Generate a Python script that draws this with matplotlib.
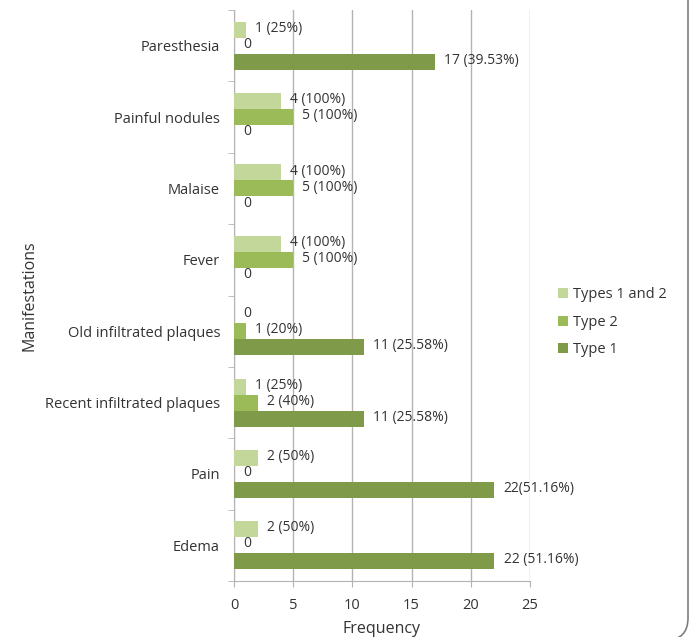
import matplotlib.pyplot as plt
import numpy as np
from matplotlib.patches import FancyBboxPatch

categories = ['Paresthesia', 'Painful nodules', 'Malaise', 'Fever',
              'Old infiltrated plaques', 'Recent infiltrated plaques', 'Pain', 'Edema']
types12 = [1, 4, 4, 4, 0, 1, 2, 2]
type2 = [0, 5, 5, 5, 1, 2, 0, 0]
type1 = [17, 0, 0, 0, 11, 11, 22, 22]
types12_labels = ['1 (25%)', '4 (100%)', '4 (100%)', '4 (100%)', '0', '1 (25%)', '2 (50%)', '2 (50%)']
type2_labels = ['0', '5 (100%)', '5 (100%)', '5 (100%)', '1 (20%)', '2 (40%)', '0', '0']
type1_labels = ['17 (39.53%)', '0', '0', '0', '11 (25.58%)', '11 (25.58%)', '22(51.16%)', '22 (51.16%)']

plt.rcParams['font.family'] = ['Open Sans', 'DejaVu Sans']
text_col = '#333333'
grid_col = '#B3B3B3'

fig = plt.figure(figsize=(6.91, 6.37), dpi=100)
ax = fig.add_axes([0.3386, 0.0879, 0.4284, 0.8964])

y = np.arange(len(categories))
h = 0.224
series = [
    (types12, types12_labels, '#C4D79B', 'Types 1 and 2', -h),
    (type2, type2_labels, '#9BBB59', 'Type 2', 0),
    (type1, type1_labels, '#7F9A48', 'Type 1', h),
]
for vals, labs, col, name, off in series:
    bars = ax.barh(y + off, vals, height=h, color=col, label=name, zorder=3)
    for b, lab in zip(bars, labs):
        ax.annotate(lab, (b.get_width(), b.get_y() + b.get_height() / 2),
                    xytext=(6.5, 1), textcoords='offset points', va='center', ha='left',
                    fontsize=10, color=text_col, zorder=4)

ax.set_ylim(len(categories) - 0.5, -0.5)
ax.set_xlim(0, 25)
ax.set_xticks(range(0, 26, 5))
ax.set_yticks(y)
ax.set_yticklabels(categories)
ax.set_yticks(np.arange(-0.5, len(categories)), minor=True)
ax.tick_params(axis='y', which='major', length=0, pad=10, labelsize=10.5, labelcolor=text_col)
ax.tick_params(axis='y', which='minor', length=4, color=grid_col, direction='out')
ax.tick_params(axis='x', length=4, color=grid_col, labelsize=10.5, labelcolor=text_col, pad=8)
ax.grid(axis='x', color=grid_col, linewidth=1, zorder=0)
for s in ['top', 'right']:
    ax.spines[s].set_visible(False)
for s in ['left', 'bottom']:
    ax.spines[s].set_color(grid_col)

ax.set_xlabel('Frequency', fontsize=11.5, color=text_col, labelpad=6)
ax.set_ylabel('Manifestations', fontsize=11.5, color=text_col)
ax.yaxis.set_label_coords(-0.665, 0.5)

leg = ax.legend(loc='center left', bbox_to_anchor=(1.05, 0.453), frameon=False,
                fontsize=10.5, handlelength=0.7, handleheight=0.7, handletextpad=0.35,
                labelspacing=0.85)
for t in leg.get_texts():
    t.set_color(text_col)

border = FancyBboxPatch((-0.3, -0.03), 7.18, 7.0, boxstyle='round,pad=0,rounding_size=0.22',
                        transform=fig.dpi_scale_trans, fill=False, edgecolor='#7F7F7F',
                        linewidth=1.2)
fig.patches.append(border)

fig.savefig('out.png', dpi=100)
